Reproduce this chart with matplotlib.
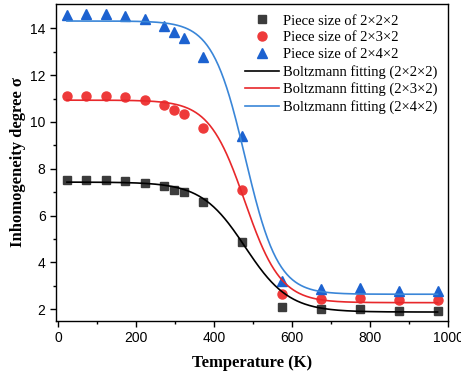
import numpy as np
import matplotlib
matplotlib.use("Agg")
import matplotlib.pyplot as plt

temp = [23, 73, 123, 173, 223, 273, 298, 323, 373, 473, 573, 673, 773, 873, 973]
sig_222 = [7.50, 7.53, 7.53, 7.49, 7.40, 7.25, 7.11, 7.00, 6.60, 4.85, 2.09, 1.99, 2.03, 1.94, 1.94]
sig_232 = [11.09, 11.12, 11.12, 11.05, 10.95, 10.71, 10.53, 10.32, 9.74, 7.08, 2.63, 2.44, 2.46, 2.40, 2.38]
sig_242 = [14.57, 14.63, 14.63, 14.54, 14.41, 14.09, 13.84, 13.57, 12.76, 9.38, 3.21, 2.87, 2.91, 2.78, 2.77]

# Boltzmann fit parameters: A1, A2, x0, dx
fit_222 = [7.43, 1.88, 480, 56]
fit_232 = [10.93, 2.28, 479, 46]
fit_242 = [14.31, 2.64, 480, 42]


def boltzmann(x, p):
    a1, a2, x0, dx = p
    return a2 + (a1 - a2) / (1 + np.exp((x - x0) / dx))


plt.rcParams['font.family'] = 'Liberation Sans'
fig = plt.figure(figsize=(4.61, 3.78), dpi=100)
ax = fig.add_axes([0.1215, 0.151, 0.8505, 0.838])

xx = np.linspace(23, 973, 400)

ax.plot(temp, sig_222, 's', color='#3c3c3c', ms=5.5, label='Piece size of 2×2×2')
ax.plot(temp, sig_232, 'o', color='#ee3a3a', ms=6.5, label='Piece size of 2×3×2')
ax.plot(temp, sig_242, '^', color='#1c62d0', ms=7, label='Piece size of 2×4×2')
ax.plot(xx, boltzmann(xx, fit_222), '-', color='black', lw=1.2, label='Boltzmann fitting (2×2×2)')
ax.plot(xx, boltzmann(xx, fit_232), '-', color='#e8282b', lw=1.2, label='Boltzmann fitting (2×3×2)')
ax.plot(xx, boltzmann(xx, fit_242), '-', color='#3a86d8', lw=1.2, label='Boltzmann fitting (2×4×2)')

ax.set_xlim(-5, 1000)
ax.set_ylim(1.5, 15.03)
ax.set_xticks(np.arange(0, 1001, 200))
ax.set_xticks(np.arange(100, 1000, 200), minor=True)
ax.set_yticks(np.arange(2, 15, 2))
ax.set_yticks(np.arange(3, 15, 2), minor=True)
ax.tick_params(direction='out', labelsize=10, length=4, width=1)
ax.tick_params(which='minor', direction='out', length=2.5, width=1)
for s in ax.spines.values():
    s.set_linewidth(1.0)

ax.set_xlabel('Temperature (K)', family='Liberation Serif', fontweight='bold', fontsize=12,
              labelpad=7)
ax.set_ylabel('Inhomogeneity degree σ', family='Liberation Serif', fontweight='bold', fontsize=12,
              labelpad=3)

ax.legend(loc='upper right', frameon=False, prop={'family': 'Liberation Serif', 'size': 10.5},
          labelspacing=0.25, handlelength=2.3, handletextpad=0.3, borderaxespad=0.3)

fig.savefig('out.png', dpi=100)
